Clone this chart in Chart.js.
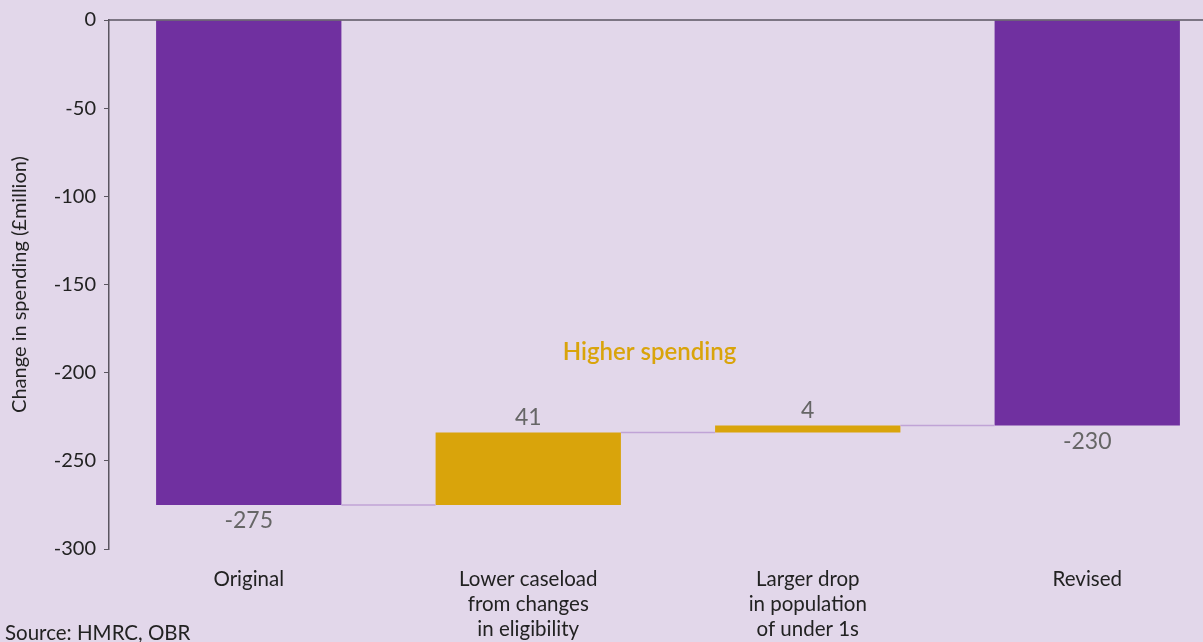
<!DOCTYPE html>
<html lang="en">
<head>
  <meta charset="UTF-8">
  <title>Change in spending</title>
  <script src="https://cdn.jsdelivr.net/npm/chart.js"></script>
  <style>
    html, body { margin: 0; padding: 0; background: #e2d7ea; overflow: hidden; }
    #wrap { width: 1230px; height: 642px; }
  </style>
</head>
<body>
  <div id="wrap"><canvas id="waterfall" width="1230" height="642"></canvas></div>

  <script>
    const categories = [
      'Original',
      ['Lower caseload', 'from changes', 'in eligibility'],
      ['Larger drop', 'in population', 'of under 1s'],
      'Revised'
    ];
    // totals are drawn from zero, steps float on the running total
    const changes = [-275, 41, 4, -230];
    const isTotal = [true, false, false, true];
    const yTicks = [0, -50, -100, -150, -200, -250, -300];

    const purple = '#7030a0';
    const gold = '#d9a40b';
    const fontFamily = 'Lato, "Noto Sans", sans-serif';

    // build [start, end] pairs for the floating bars
    const floating = [];
    let running = 0;
    changes.forEach((v, i) => {
      if (isTotal[i]) {
        floating.push([0, v]);
        running = v;
      } else {
        floating.push([running, running + v]);
        running += v;
      }
    });

    const waterfallExtras = {
      id: 'waterfallExtras',
      afterDatasetsDraw(chart) {
        const ctx = chart.ctx;
        const x = chart.scales.x;
        const y = chart.scales.y;
        const bars = chart.getDatasetMeta(0).data;
        const area = chart.chartArea;

        // zero line along the top
        ctx.save();
        ctx.strokeStyle = '#5a5560';
        ctx.lineWidth = 1.5;
        ctx.beginPath();
        ctx.moveTo(area.left, y.getPixelForValue(0));
        ctx.lineTo(area.right, y.getPixelForValue(0));
        ctx.stroke();

        // connectors between bars at the running total
        ctx.strokeStyle = '#c0a3d6';
        ctx.lineWidth = 1.5;
        for (let i = 0; i < bars.length - 1; i++) {
          const level = floating[i][1];
          const yy = y.getPixelForValue(level);
          const a = bars[i].getProps(['x', 'width']);
          const b = bars[i + 1].getProps(['x', 'width']);
          ctx.beginPath();
          ctx.moveTo(a.x + a.width / 2, yy);
          ctx.lineTo(b.x - b.width / 2, yy);
          ctx.stroke();
        }

        // value labels
        ctx.fillStyle = '#666666';
        ctx.font = '23px ' + fontFamily;
        ctx.textAlign = 'center';
        ctx.textBaseline = 'middle';
        bars.forEach((bar, i) => {
          const [s, e] = floating[i];
          if (isTotal[i]) {
            ctx.fillText(String(changes[i]), bar.x, y.getPixelForValue(Math.min(s, e)) + 16);
          } else {
            ctx.fillText(String(changes[i]), bar.x, y.getPixelForValue(Math.max(s, e)) - 15);
          }
        });

        // annotation for the increases
        ctx.fillStyle = gold;
        ctx.font = '600 24px ' + fontFamily;
        ctx.fillText('Higher spending', x.getPixelForValue(1.434), y.getPixelForValue(-188.5));

        // source note
        ctx.fillStyle = '#222222';
        ctx.font = '20.5px ' + fontFamily;
        ctx.textAlign = 'left';
        ctx.textBaseline = 'alphabetic';
        ctx.fillText('Source: HMRC, OBR', 5, 640);
        ctx.restore();
      }
    };

    new Chart(document.getElementById('waterfall').getContext('2d'), {
      type: 'bar',
      data: {
        labels: categories,
        datasets: [{
          data: floating,
          backgroundColor: isTotal.map(t => t ? purple : gold),
          borderSkipped: false,
          borderWidth: 0,
          categoryPercentage: 1,
          barPercentage: 0.663
        }]
      },
      options: {
        responsive: false,
        animation: false,
        layout: { padding: { top: 19, right: 3, left: 0, bottom: 0 } },
        plugins: {
          legend: { display: false },
          tooltip: { enabled: false }
        },
        scales: {
          x: {
            grid: { display: false, drawTicks: false },
            border: { display: false },
            ticks: {
              color: '#222222',
              padding: 18,
              maxRotation: 0,
              autoSkip: false,
              font: { family: fontFamily, size: 20.5, lineHeight: 1.22 }
            },
            afterFit: s => { s.height = 93; }
          },
          y: {
            min: -300,
            max: 0,
            afterBuildTicks: s => { s.ticks = yTicks.map(v => ({ value: v })); },
            grid: { drawOnChartArea: false, tickLength: 5, color: '#5a5560' },
            border: { display: true, color: '#5a5560', width: 1.5 },
            ticks: {
              color: '#222222',
              padding: 8,
              font: { family: fontFamily, size: 20 }
            },
            title: {
              display: true,
              text: 'Change in spending (£million)',
              color: '#222222',
              padding: { top: 8, bottom: 0 },
              font: { family: fontFamily, size: 20 }
            },
            afterFit: s => { s.width = 109; }
          }
        }
      },
      plugins: [waterfallExtras]
    });
  </script>
</body>
</html>
